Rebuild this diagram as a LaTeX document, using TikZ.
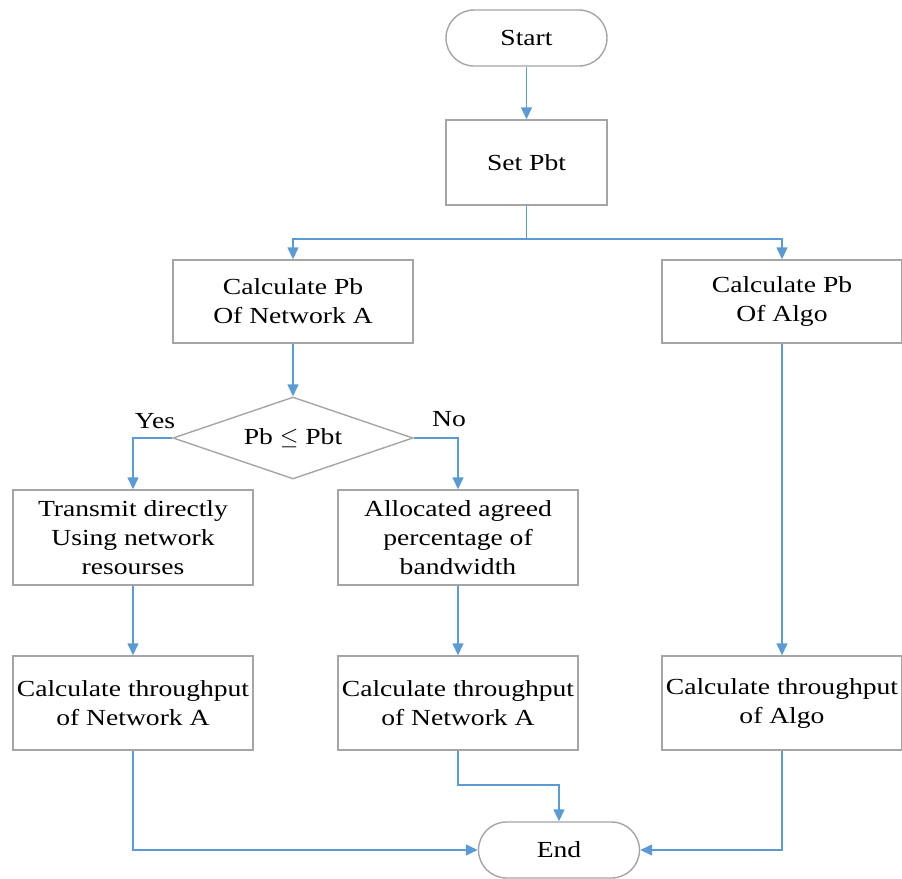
\documentclass[tikz,border=0pt]{standalone}
\usepackage{fontspec}
\setmainfont{Liberation Serif}[FakeStretch=1.2]
\usetikzlibrary{shapes.geometric,arrows.meta}
\definecolor{linegray}{RGB}{165,165,165}
\definecolor{flowblue}{RGB}{91,155,213}
\begin{document}
\begin{tikzpicture}[x=0.5pt, y=-0.5pt,
    every node/.style={font=\fontsize{11.5}{14.5}\selectfont},
    term/.style={draw=linegray, line width=0.7pt, rounded corners=14pt, minimum width=80.5pt, minimum height=28pt},
    stepbox/.style={draw=linegray, line width=0.7pt, inner xsep=1.5pt, minimum width=120pt, align=center},
    decide/.style={draw=linegray, line width=0.7pt, diamond, aspect=2.9, inner sep=0pt, minimum width=120pt, minimum height=41pt},
    flow/.style={draw=flowblue, line width=0.7pt, -{Triangle[length=6pt,width=5.5pt]}}]
    \useasboundingbox (0,0) rectangle (902,879);

    % Start and threshold
    \node[term] (start) at (526.5,38) {Start};
    \node[stepbox, minimum width=80.5pt, minimum height=42.5pt] (setpbt) at (526.5,162.5) {Set Pbt};

    % Blocking probability of both
    \node[stepbox, minimum height=41.5pt] (pbA) at (293,301.5) {Calculate Pb\\Of Network A};
    \node[stepbox, minimum height=41.5pt] (pbAlgo) at (782,301.5) {Calculate Pb\\Of Algo};

    % Decision
    \node[decide] (check) at (293,438) {Pb $\leq$ Pbt};
    \node (yes) at (155,421) {Yes};
    \node (no) at (449,419) {No};

    % Branches
    \node[stepbox, minimum height=47.5pt] (direct) at (133,537.5) {Transmit directly\\Using network\\resourses};
    \node[stepbox, minimum height=47.5pt] (alloc) at (458,537.5) {Allocated agreed\\percentage of\\bandwidth};

    % Throughput
    \node[stepbox, minimum height=47pt] (thrA) at (133,703) {Calculate throughput\\of Network A};
    \node[stepbox, minimum height=47pt] (thrB) at (458,703) {Calculate throughput\\of Network A};
    \node[stepbox, minimum height=47pt] (thrAlgo) at (782,703) {Calculate throughput\\of Algo};

    % End
    \node[term] (end) at (559,850) {End};

    % Connectors
    \draw[flow] (start) -- (setpbt);
    \draw[flow] (setpbt.south) |- (526.5,239) -| (pbA.north);
    \draw[flow] (setpbt.south) |- (526.5,239) -| (pbAlgo.north);
    \draw[flow] (pbA) -- (check);
    \draw[flow] (check.west) -| (direct.north);
    \draw[flow] (check.east) -| (alloc.north);
    \draw[flow] (direct) -- (thrA);
    \draw[flow] (alloc) -- (thrB);
    \draw[flow] (pbAlgo) -- (thrAlgo);
    \draw[flow] (thrA.south) |- (end.west);
    \draw[flow] (thrAlgo.south) |- (end.east);
    \draw[flow] (thrB.south) |- (559,785) -- (end.north);
\end{tikzpicture}
\end{document}
